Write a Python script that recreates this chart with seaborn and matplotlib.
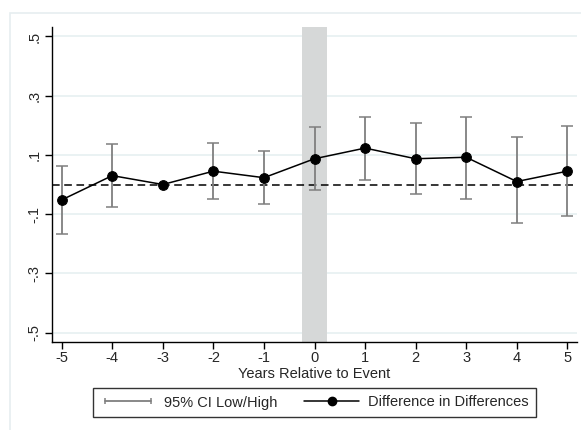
import matplotlib
matplotlib.use("Agg")
import matplotlib.pyplot as plt
from matplotlib.lines import Line2D
from matplotlib.patches import Rectangle
from matplotlib.legend_handler import HandlerLine2D
import seaborn as sns
import pandas as pd
import numpy as np

years = [-5, -4, -3, -2, -1, 0, 1, 2, 3, 4, 5]
did = [-0.052, 0.030, 0.0, 0.045, 0.023, 0.087, 0.123, 0.087, 0.092, 0.010, 0.045]
ci_low = [-0.167, -0.075, np.nan, -0.049, -0.067, -0.019, 0.016, -0.032, -0.048, -0.131, -0.106]
ci_high = [0.063, 0.136, np.nan, 0.139, 0.114, 0.193, 0.229, 0.208, 0.227, 0.159, 0.198]
yticks = [-0.5, -0.3, -0.1, 0.1, 0.3, 0.5]
ytick_labels = ["-.5", "-.3", "-.1", ".1", ".3", ".5"]

sns.set_theme(style="white")
plt.rcParams['font.family'] = ['Liberation Sans', 'DejaVu Sans']

df = pd.DataFrame({"year": years, "did": did, "lo": ci_low, "hi": ci_high})

fig = plt.figure(figsize=(5.81, 4.30), dpi=100)
fig.patch.set_facecolor("white")
# outer light frame
fig.patches.append(Rectangle((10/581, -0.1), 1.2, (430-13)/430 + 0.1, transform=fig.transFigure,
                             fill=False, edgecolor="#E6EEF0", linewidth=1.2, zorder=0))

ax = fig.add_axes([52.3/581, (430-341.7)/430, (576.7-52.3)/581, (341.7-27.3)/430])
ax.set_facecolor("white")

ax.axvspan(-0.25, 0.25, color="#D6D8D8", zorder=1, linewidth=0)
for yt in yticks:
    ax.axhline(yt, color="#E6F0F1", linewidth=1.2, zorder=0.5)
ax.axhline(0, color="black", linestyle=(0, (5, 3)), linewidth=1.1, zorder=2)

ci = df.dropna()
yerr = np.vstack([ci["did"] - ci["lo"], ci["hi"] - ci["did"]])
ax.errorbar(ci["year"], ci["did"], yerr=yerr, fmt="none", ecolor="#7F7F7F",
            elinewidth=1.3, capsize=4.5, capthick=1.1, zorder=3)

sns.lineplot(data=df, x="year", y="did", ax=ax, color="black", linewidth=1.1,
             marker="o", markersize=7, markeredgecolor="black", markerfacecolor="black",
             zorder=4, legend=False)

ax.set_xlim(-5.186, 5.186)
ax.set_ylim(-0.531, 0.531)
ax.set_xticks(years)
ax.set_xticklabels([str(y) for y in years])
ax.set_yticks(yticks)
ax.set_yticklabels(ytick_labels, rotation=90, va="center")
ax.tick_params(axis="both", which="both", length=5, width=1, color="black",
               labelsize=10.5, direction="out", bottom=True, left=True, pad=3)
ax.tick_params(axis="x", pad=2)
for s in ["top", "right"]:
    ax.spines[s].set_visible(False)
for s in ["left", "bottom"]:
    ax.spines[s].set_color("black")
    ax.spines[s].set_linewidth(1.0)
ax.set_xlabel("Years Relative to Event", fontsize=10.5, labelpad=1)
ax.set_ylabel("")

h1 = Line2D([], [], color="#7F7F7F", linewidth=1.3, marker="|", markersize=5, markeredgewidth=1.1)
h2 = Line2D([], [], color="black", linewidth=1.1, marker="o", markersize=6)
leg = fig.legend([h1, h2], ["95% CI Low/High", "Difference in Differences"],
                 loc="center", bbox_to_anchor=(314.5/581, (430-402.5)/430), ncol=2,
                 frameon=True, fancybox=False, fontsize=10.5, handlelength=3.8,
                 columnspacing=1.8, borderpad=0.5, handletextpad=0.6,
                 handler_map={h1: HandlerLine2D(numpoints=2)})
leg.get_frame().set_edgecolor("black")
leg.get_frame().set_linewidth(1.0)

fig.savefig("out.png", dpi=100, facecolor="white")
